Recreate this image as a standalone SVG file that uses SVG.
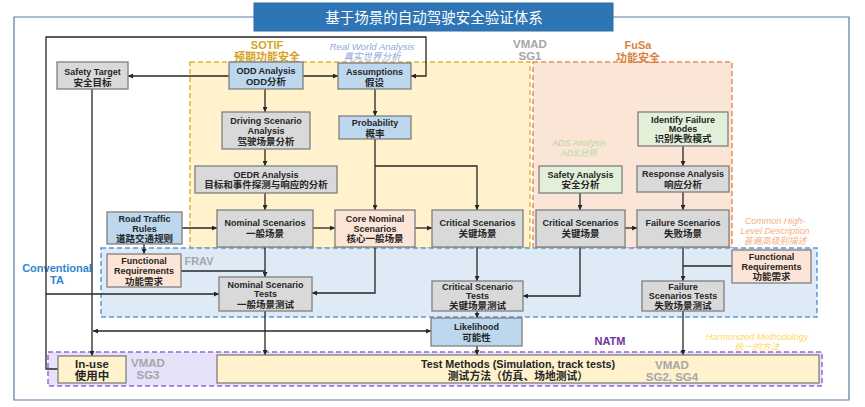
<svg xmlns="http://www.w3.org/2000/svg" width="865" height="407" viewBox="0 0 865 407">
<style>
text{font-family:"Liberation Sans","Noto Sans CJK SC",sans-serif;dominant-baseline:central;text-anchor:middle;}
.b{fill:#262626;font-weight:bold;font-size:9px;}
.c{fill:#262626;font-weight:bold;font-size:9.5px;}
.gray{fill:#d9d9d9;stroke:#7f7f7f;stroke-width:1.3;}
.blue{fill:#bdd7ee;stroke:#7f7f7f;stroke-width:1.3;}
.peach{fill:#fce4d6;stroke:#7f7f7f;stroke-width:1.3;}
.green{fill:#e2f0d9;stroke:#7f7f7f;stroke-width:1.3;}
.yel{fill:#fff2cc;stroke:#7f7f7f;stroke-width:1.3;}
.ln{fill:none;stroke:#262626;stroke-width:1.3;}
.vm{fill:#a6a6a6;font-weight:bold;font-size:11.5px;}
</style>
<defs>
<marker id="ah" viewBox="0 0 10 10" refX="10" refY="5" markerWidth="6" markerHeight="5" markerUnits="userSpaceOnUse" orient="auto-start-reverse">
<path d="M0,0 L10,5 L0,10 z" fill="#262626"/>
</marker>
</defs>
<rect width="865" height="407" fill="#ffffff"/>
<!-- outer frame -->
<path d="M254,17 H14 V400 H849 V17 H613" fill="none" stroke="#5a7ab0" stroke-width="1.2"/>
<!-- title -->
<g id="title">
<rect x="254" y="3" width="359" height="28" fill="#2e75b6" stroke="#2e6aa6" stroke-width="1"/>
<text x="434" y="18" style="fill:#ffffff;font-size:14.5px;">基于场景的自动驾驶安全验证体系</text>
</g>
<!-- regions -->
<g id="regions">
<rect x="190" y="62" width="340" height="186" fill="#fff2cc" stroke="#e0b43c" stroke-width="1.5" stroke-dasharray="5,3"/>
<rect x="533" y="62" width="199" height="186" fill="#fbe5d6" stroke="#e6905a" stroke-width="1.5" stroke-dasharray="5,3"/>
<rect x="101" y="248" width="716" height="69" fill="#deebf7" stroke="#5b9bd5" stroke-width="1.5" stroke-dasharray="5,3"/>
<rect x="48" y="352" width="774" height="34" fill="#e6e2fa" stroke="#a064d2" stroke-width="1.5" stroke-dasharray="5,3"/>
</g>
<!-- region labels -->
<g id="labels">
<text x="267" y="45" style="fill:#d6a21e;font-weight:bold;font-size:11px;">SOTIF</text>
<text x="267" y="57" style="fill:#d6a21e;font-weight:bold;font-size:11px;">预期功能安全</text>
<text x="372" y="46" style="fill:#8faadc;font-style:italic;font-size:9.5px;">Real World Analysis</text>
<text x="372" y="56.5" style="fill:#8faadc;font-style:italic;font-size:9.5px;">真实世界分析</text>
<text x="530" y="44" class="vm">VMAD</text>
<text x="530" y="56" class="vm">SG1</text>
<text x="638" y="45" style="fill:#d9833f;font-weight:bold;font-size:11px;">FuSa</text>
<text x="638" y="58" style="fill:#d9833f;font-weight:bold;font-size:11px;">功能安全</text>
<text x="579" y="143" style="fill:#b5dba0;font-style:italic;font-size:9px;">ADS Analysis</text>
<text x="579" y="153" style="fill:#b5dba0;font-style:italic;font-size:9px;">ADS分析</text>
<text x="775" y="221" style="fill:#f4b183;font-style:italic;font-size:9px;">Common High-</text>
<text x="775" y="231" style="fill:#f4b183;font-style:italic;font-size:9px;">Level Description</text>
<text x="775" y="240.5" style="fill:#f4b183;font-style:italic;font-size:9px;">普遍高级别描述</text>
<text x="199" y="261" style="fill:#a6a6a6;font-weight:bold;font-size:11px;">FRAV</text>
<text x="57" y="268" style="fill:#2e86d0;font-weight:bold;font-size:11px;">Conventional</text>
<text x="57" y="280" style="fill:#2e86d0;font-weight:bold;font-size:11px;">TA</text>
<text x="610" y="341" style="fill:#7030a0;font-weight:bold;font-size:11px;">NATM</text>
<text x="757" y="337" style="fill:#ffd966;font-style:italic;font-size:9px;">Harmonized Methodology</text>
<text x="757" y="346.5" style="fill:#ffd966;font-style:italic;font-size:9px;">统一的方法</text>
<text x="148" y="363" class="vm">VMAD</text>
<text x="148" y="375" class="vm">SG3</text>
</g>
<!-- connectors -->
<g id="connectors">
<path class="ln" d="M229,76 H128" marker-end="url(#ah)"/>
<path class="ln" d="M303,76 H338" marker-end="url(#ah)"/>
<path class="ln" d="M58,369 H46 V37 H426 V76 H411" marker-end="url(#ah)"/>
<path class="ln" d="M92,89 V356" marker-end="url(#ah)"/>
<path class="ln" d="M93,331 H431" marker-start="url(#ah)" marker-end="url(#ah)"/>
<path class="ln" d="M46,294 H219" marker-end="url(#ah)"/>
<path class="ln" d="M265,89 V112" marker-end="url(#ah)"/>
<path class="ln" d="M265,149 V166" marker-end="url(#ah)"/>
<path class="ln" d="M265,193 V210" marker-end="url(#ah)"/>
<path class="ln" d="M182,228 H217" marker-end="url(#ah)"/>
<path class="ln" d="M313,228 H335" marker-end="url(#ah)"/>
<path class="ln" d="M415,228 H432" marker-end="url(#ah)"/>
<path class="ln" d="M375,89 V116" marker-end="url(#ah)"/>
<path class="ln" d="M375,139 V210" marker-end="url(#ah)"/>
<path class="ln" d="M375,166 H477 V210" marker-end="url(#ah)"/>
<path class="ln" d="M683,146 V166" marker-end="url(#ah)"/>
<path class="ln" d="M683,192 V210" marker-end="url(#ah)"/>
<path class="ln" d="M580,193 V210" marker-end="url(#ah)"/>
<path class="ln" d="M625,228 H637" marker-end="url(#ah)"/>
<path class="ln" d="M144,244 V254" marker-end="url(#ah)"/>
<path class="ln" d="M181,271 H265"/>
<path class="ln" d="M265,247 V277" marker-end="url(#ah)"/>
<path class="ln" d="M375,247 V293 H312" marker-end="url(#ah)"/>
<path class="ln" d="M477,247 V281" marker-end="url(#ah)"/>
<path class="ln" d="M580,247 V296 H523" marker-end="url(#ah)"/>
<path class="ln" d="M683,247 V281" marker-end="url(#ah)"/>
<path class="ln" d="M732,266 H683"/>
<path class="ln" d="M477,311 V318" marker-end="url(#ah)"/>
<path class="ln" d="M477,346 V355" marker-end="url(#ah)"/>
<path class="ln" d="M265,311 V355" marker-end="url(#ah)"/>
<path class="ln" d="M683,311 V355" marker-end="url(#ah)"/>
</g>
<!-- nodes -->
<g id="safety-target"><rect class="gray" x="57" y="62" width="71" height="27"/><text class="b" x="92.5" y="71.5">Safety Target</text><text class="c" x="92.5" y="82">安全目标</text></g>
<g id="odd-analysis"><rect class="blue" x="229" y="62" width="74" height="27"/><text class="b" x="266" y="71">ODD Analysis</text><text class="c" x="266" y="81.5">ODD分析</text></g>
<g id="assumptions"><rect class="blue" x="338" y="63" width="73" height="26"/><text class="b" x="374.5" y="72">Assumptions</text><text class="c" x="374.5" y="82">假设</text></g>
<g id="driving-scenario"><rect class="gray" x="222" y="112" width="88" height="37"/><text class="b" x="266" y="121">Driving Scenario</text><text class="b" x="266" y="131">Analysis</text><text class="c" x="266" y="141">驾驶场景分析</text></g>
<g id="oedr"><rect class="gray" x="195" y="166" width="142" height="27"/><text class="b" x="266" y="174.5">OEDR Analysis</text><text class="c" x="266" y="184.5">目标和事件探测与响应的分析</text></g>
<g id="road-traffic"><rect class="blue" x="107" y="212" width="75" height="32"/><text class="b" x="144.5" y="218.5">Road Traffic</text><text class="b" x="144.5" y="228.5">Rules</text><text class="c" x="144.5" y="238">道路交通规则</text></g>
<g id="nominal"><rect class="gray" x="217" y="210" width="96" height="37"/><text class="b" x="265" y="223">Nominal Scenarios</text><text class="c" x="265" y="233.5">一般场景</text></g>
<g id="probability"><rect class="blue" x="339" y="116" width="72" height="23"/><text class="b" x="375" y="123">Probability</text><text class="c" x="375" y="133">概率</text></g>
<g id="core-nominal"><rect class="peach" x="335" y="210" width="80" height="37"/><text class="b" x="375" y="218.5">Core Nominal</text><text class="b" x="375" y="228.5">Scenarios</text><text class="c" x="375" y="238.5">核心一般场景</text></g>
<g id="critical-sotif"><rect class="gray" x="432" y="210" width="91" height="37"/><text class="b" x="477.5" y="223">Critical Scenarios</text><text class="c" x="477.5" y="233.5">关键场景</text></g>
<g id="safety-analysis"><rect class="green" x="539" y="166" width="83" height="27"/><text class="b" x="580.5" y="174.5">Safety Analysis</text><text class="c" x="580.5" y="184.5">安全分析</text></g>
<g id="identify-failure"><rect class="green" x="638" y="112" width="90" height="34"/><text class="b" x="683" y="119.5">Identify Failure</text><text class="b" x="683" y="129">Modes</text><text class="c" x="683" y="138.5">识别失败模式</text></g>
<g id="response-analysis"><rect class="gray" x="637" y="166" width="92" height="26"/><text class="b" x="683" y="174">Response Analysis</text><text class="c" x="683" y="184">响应分析</text></g>
<g id="critical-fusa"><rect class="gray" x="536" y="210" width="89" height="37"/><text class="b" x="580.5" y="223">Critical Scenarios</text><text class="c" x="580.5" y="233.5">关键场景</text></g>
<g id="failure-scenarios"><rect class="gray" x="637" y="210" width="92" height="37"/><text class="b" x="683" y="223">Failure Scenarios</text><text class="c" x="683" y="233.5">失败场景</text></g>
<g id="func-req-left"><rect class="peach" x="107" y="254" width="74" height="33"/><text class="b" x="144" y="261">Functional</text><text class="b" x="144" y="271">Requirements</text><text class="c" x="144" y="281">功能需求</text></g>
<g id="nominal-tests"><rect class="gray" x="219" y="277" width="93" height="34"/><text class="b" x="265.5" y="284.5">Nominal Scenario</text><text class="b" x="265.5" y="294">Tests</text><text class="c" x="265.5" y="304">一般场景测试</text></g>
<g id="critical-tests"><rect class="gray" x="432" y="281" width="91" height="30"/><text class="b" x="477.5" y="286.5">Critical Scenario</text><text class="b" x="477.5" y="296">Tests</text><text class="c" x="477.5" y="305.5">关键场景测试</text></g>
<g id="failure-tests"><rect class="gray" x="642" y="281" width="82" height="30"/><text class="b" x="683" y="286.5">Failure</text><text class="b" x="683" y="296">Scenarios Tests</text><text class="c" x="683" y="305.5">失败场景测试</text></g>
<g id="func-req-right"><rect class="peach" x="732" y="250" width="79" height="33"/><text class="b" x="771.5" y="257">Functional</text><text class="b" x="771.5" y="267">Requirements</text><text class="c" x="771.5" y="276.5">功能需求</text></g>
<g id="likelihood"><rect class="blue" x="431" y="318" width="91" height="28"/><text class="b" x="476.5" y="327">Likelihood</text><text class="c" x="476.5" y="337">可能性</text></g>
<g id="in-use"><rect class="yel" x="58" y="356" width="68" height="27"/><text x="92" y="364" style="fill:#262626;font-weight:bold;font-size:11.5px;">In-use</text><text x="92" y="376" style="fill:#262626;font-weight:bold;font-size:11.5px;">使用中</text></g>
<g id="test-methods"><rect class="yel" x="217" y="355" width="602" height="28"/><text x="518" y="364" style="fill:#262626;font-weight:bold;font-size:10.8px;">Test Methods (Simulation, track tests)</text><text x="518" y="376" style="fill:#262626;font-weight:bold;font-size:10.8px;">测试方法（仿真、场地测试）</text>
<text x="672" y="365" class="vm">VMAD</text><text x="672" y="377" class="vm">SG2, SG4</text></g>
</svg>
